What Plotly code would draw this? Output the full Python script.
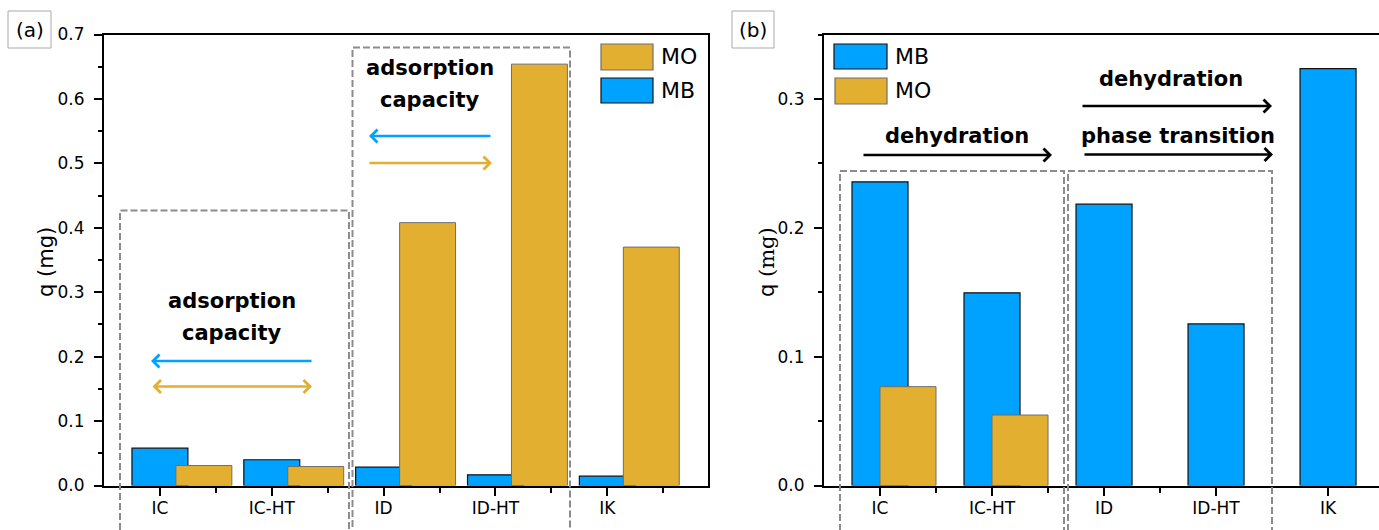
import plotly.graph_objects as go

# ---------------- data ----------------
categories = ["IC", "IC-HT", "ID", "ID-HT", "IK"]
a_MB = [0.058, 0.040, 0.0285, 0.0166, 0.0145]
a_MO = [0.031, 0.0295, 0.408, 0.654, 0.370]
b_MB = [0.2357, 0.1495, 0.2183, 0.1254, 0.3235]
b_MO = [0.0767, 0.0547, None, None, None]
a_yticks = [0.0, 0.1, 0.2, 0.3, 0.4, 0.5, 0.6, 0.7]
b_yticks = [0.0, 0.1, 0.2, 0.3]

W, H = 1379, 530
def X(px):
    return px / W
def Y(py):
    return 1 - py / H

BLUE = "#00A2FF"
GOLD = "#E3AF30"
FONT = "DejaVu Sans"
idx = list(range(len(categories)))

fig = go.Figure()
fig.add_trace(go.Bar(x=idx, y=a_MB, name="MB", width=0.5, offset=-0.25,
                     marker=dict(color=BLUE, line=dict(color="#111111", width=1.2)),
                     xaxis="x", yaxis="y", showlegend=False))
fig.add_trace(go.Bar(x=idx, y=a_MO, name="MO", width=0.5, offset=0.143,
                     marker=dict(color=GOLD, line=dict(color="#6E6E6E", width=1)),
                     xaxis="x", yaxis="y", showlegend=False))
fig.add_trace(go.Bar(x=idx, y=b_MB, name="MB", width=0.5, offset=-0.25,
                     marker=dict(color=BLUE, line=dict(color="#111111", width=1.2)),
                     xaxis="x2", yaxis="y2", showlegend=False))
fig.add_trace(go.Bar(x=idx, y=b_MO, name="MO", width=0.5, offset=0.0,
                     marker=dict(color=GOLD, line=dict(color="#6E6E6E", width=1)),
                     xaxis="x2", yaxis="y2", showlegend=False))

ydom = [Y(485.5), Y(34.5)]
common_x = dict(showline=True, linecolor="black", linewidth=2, ticks="outside",
                ticklen=8, tickwidth=1.5, tickcolor="black", showgrid=False,
                zeroline=False, tickvals=idx, ticktext=categories,
                tickfont=dict(family=FONT, size=17, color="black"),
                minor=dict(tickvals=[i + 0.5 for i in idx], ticks="outside",
                           ticklen=5, tickwidth=1.5, tickcolor="black"),
                ticklabelstandoff=-2)
common_y = dict(showline=True, linecolor="black", linewidth=2, ticks="outside",
                ticklen=8, tickwidth=1.5, tickcolor="black", showgrid=False,
                zeroline=False, tickformat=".1f",
                tickfont=dict(family=FONT, size=17, color="black"),
                minor=dict(dtick=0.05, ticks="outside", ticklen=4,
                           tickwidth=1.5, tickcolor="black"),
                ticklabelstandoff=6)

fig.update_layout(
    width=W, height=H, autosize=False,
    margin=dict(l=0, r=0, t=0, b=0, autoexpand=False),
    paper_bgcolor="white", plot_bgcolor="white",
    barmode="overlay",
    xaxis=dict(domain=[X(104), X(708)], range=[-0.5, 4.9], anchor="y",
               mirror=True, automargin=False, **common_x),
    yaxis=dict(domain=ydom, range=[0, 0.7], anchor="x", mirror=True,
               automargin=False, tickvals=a_yticks, **common_y),
    xaxis2=dict(domain=[X(824), 1.0], range=[-0.5, 4.455], anchor="y2",
                mirror=True, automargin=False, **common_x),
    yaxis2=dict(domain=ydom, range=[0, 0.35], anchor="x2", mirror=False,
                automargin=False, tickvals=b_yticks, **common_y),
)

shapes = []
annots = []
DASH = dict(color="#8C8C8C", width=2, dash="7px,3px")

def dashed_box(x0, y0, x1):
    shapes.append(dict(type="rect", xref="paper", yref="paper",
                       x0=X(x0), x1=X(x1), y0=Y(560), y1=Y(y0),
                       line=DASH, fillcolor="rgba(0,0,0,0)", layer="above"))

def text(px, py, s, size=21, bold=True, xanchor="center"):
    annots.append(dict(x=X(px), y=Y(py), xref="paper", yref="paper",
                       text=("<b>%s</b>" % s) if bold else s, showarrow=False,
                       xanchor=xanchor, yanchor="middle",
                       font=dict(family=FONT, size=size, color="black")))

def arrow(hx, hy, tx, ty, color, both=False, width=2.5):
    annots.append(dict(x=X(hx), y=Y(hy), xref="paper", yref="paper",
                       ax=tx - hx, ay=ty - hy, axref="pixel", ayref="pixel",
                       text="", showarrow=True, arrowhead=4, arrowsize=1,
                       arrowwidth=width, arrowcolor=color, standoff=0,
                       startstandoff=0, startarrowhead=4, startarrowsize=1,
                       arrowside="end+start" if both else "end"))

def legend_item(x0, y0, x1, y1, color, lcolor, label):
    shapes.append(dict(type="rect", xref="paper", yref="paper",
                       x0=X(x0), x1=X(x1), y0=Y(y1), y1=Y(y0),
                       fillcolor=color, line=dict(color=lcolor, width=1.2)))
    text(x1 + 6, (y0 + y1) / 2, label, size=22, bold=False, xanchor="left")

def panel_label(x0, y0, x1, y1, s):
    shapes.append(dict(type="rect", xref="paper", yref="paper",
                       x0=X(x0), x1=X(x1), y0=Y(y1), y1=Y(y0),
                       line=dict(color="#AAAAAA", width=1)))
    text((x0 + x1) / 2, (y0 + y1) / 2, s, size=20, bold=False)

# panel (a)
panel_label(8, 11, 51, 48, "(a)")
dashed_box(120, 210.5, 349)
dashed_box(352.5, 47.5, 570)
text(232, 301, "adsorption")
text(232, 333, "capacity")
arrow(151, 361, 313, 361, BLUE)
arrow(312, 386.5, 151, 386.5, GOLD, both=True)
text(430, 68, "adsorption")
text(430, 100, "capacity")
arrow(369, 136, 492, 136, BLUE)
arrow(492, 163, 368, 163, GOLD)
legend_item(601, 44, 653, 70, GOLD, "#6E6E6E", "MO")
legend_item(601, 78, 653, 103, BLUE, "#111111", "MB")
annots.append(dict(x=X(46), y=Y(262), xref="paper", yref="paper", text="q (mg)",
                   textangle=-90, showarrow=False, xanchor="center", yanchor="middle",
                   font=dict(family=FONT, size=21, color="black")))

# panel (b)
panel_label(732, 11, 774, 48, "(b)")
dashed_box(840, 171, 1064)
dashed_box(1068, 171, 1272)
text(957, 136, "dehydration")
arrow(1052, 155, 862, 155, "black")
text(1171, 79, "dehydration")
arrow(1272, 106, 1081, 106, "black")
text(1178, 136, "phase transition")
arrow(1273, 154.5, 1083, 154.5, "black")
legend_item(834, 44, 887, 69, BLUE, "#111111", "MB")
legend_item(835, 78, 887, 104, GOLD, "#6E6E6E", "MO")
annots.append(dict(x=X(767), y=Y(262), xref="paper", yref="paper",
                   text="q <span style='font-family:DejaVu Serif'>(mg)</span>",
                   textangle=-90, showarrow=False, xanchor="center", yanchor="middle",
                   font=dict(family=FONT, size=21, color="black")))

fig.update_layout(shapes=shapes, annotations=annots)
fig.write_html("out.html",
               config={"displayModeBar": False},
               post_script="document.body.style.margin='0';"
                           "document.body.style.overflow='hidden';"
                           "document.documentElement.style.overflow='hidden';")
